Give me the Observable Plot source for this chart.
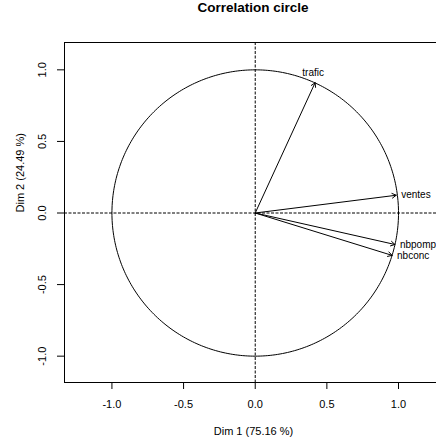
<!DOCTYPE html>
<html>
<head>
<meta charset="utf-8">
<script src="https://cdn.jsdelivr.net/npm/d3@7"></script>
<script src="https://cdn.jsdelivr.net/npm/@observablehq/plot@0.6"></script>
<style>
  html, body { margin: 0; padding: 0; background: #fff; overflow: hidden; width: 436px; height: 438px; }
  #title { margin-left: 64px; width: 378px; height: 32px; line-height: 32px; text-align: center;
           font: bold 13.5px "Liberation Sans", Helvetica, Arial, sans-serif; color: #000; white-space: nowrap; }
  #chart svg { overflow: visible; }
</style>
</head>
<body>
<div id="title">Correlation circle</div>
<div id="chart"></div>
<script>
// Data
const variables = ["trafic", "ventes", "nbpomp", "nbconc"];
const dim1 = [0.418, 0.984, 0.975, 0.955];
const dim2 = [0.910, 0.124, -0.220, -0.296];
const xTicks = [-1.0, -0.5, 0.0, 0.5, 1.0];
const yTicks = [-1.0, -0.5, 0.0, 0.5, 1.0];
const xLabel = "Dim 1 (75.16 %)";
const yLabel = "Dim 2 (24.49 %)";

const vars = variables.map((name, i) => ({name, x: dim1[i], y: dim2[i]}));
// unit circle outline
const circle = d3.range(0, 361, 1).map(a => ({x: Math.cos(a * Math.PI / 180), y: Math.sin(a * Math.PI / 180)}));

const fmt = d => d.toFixed(1);
const font = "'Liberation Sans', Helvetica, Arial, sans-serif";

const chart = Plot.plot({
  width: 436,
  height: 406,
  marginLeft: 64,
  marginRight: -6,
  marginTop: 10,
  marginBottom: 56,
  style: {fontFamily: font, fontSize: "11px", color: "#000", background: "#fff", overflow: "visible"},
  x: {domain: [-1.331, 1.307]},
  y: {domain: [-1.184, 1.191]},
  marks: [
    Plot.frame({stroke: "#000", strokeWidth: 1}),
    Plot.ruleY([0], {stroke: "#000", strokeDasharray: "3,1.5", strokeWidth: 1}),
    Plot.ruleX([0], {stroke: "#000", strokeDasharray: "3,1.5", strokeWidth: 1}),
    Plot.line(circle, {x: "x", y: "y", stroke: "#000", strokeWidth: 1}),
    Plot.arrow(vars, {x1: 0, y1: 0, x2: "x", y2: "y", stroke: "#000", strokeWidth: 1, headLength: 7, headAngle: 60}),
    Plot.text(vars.filter(d => d.y > 0.5), {x: "x", y: "y", text: "name", textAnchor: "middle", dy: -10, dx: -2, fontSize: 10, fill: "#000"}),
    Plot.text(vars.filter(d => d.y <= 0.5), {x: "x", y: "y", text: "name", textAnchor: "start", dx: 5, fontSize: 10, fill: "#000"}),
    Plot.axisX({ticks: xTicks, tickFormat: fmt, tickSize: 7, tickPadding: 11, label: null, fontSize: 11}),
    Plot.axisY({ticks: yTicks, tickFormat: fmt, tickSize: 7, tickPadding: 12, tickRotate: -90, label: null, fontSize: 11}),
    Plot.text([xLabel], {text: d => d, frameAnchor: "bottom", dy: 49, lineAnchor: "middle", fontSize: 11, fill: "#000"}),
    Plot.text([yLabel], {text: d => d, frameAnchor: "left", rotate: -90, dx: -44, lineAnchor: "middle", fontSize: 11, fill: "#000"})
  ]
});
document.getElementById("chart").appendChild(chart);
</script>
</body>
</html>
